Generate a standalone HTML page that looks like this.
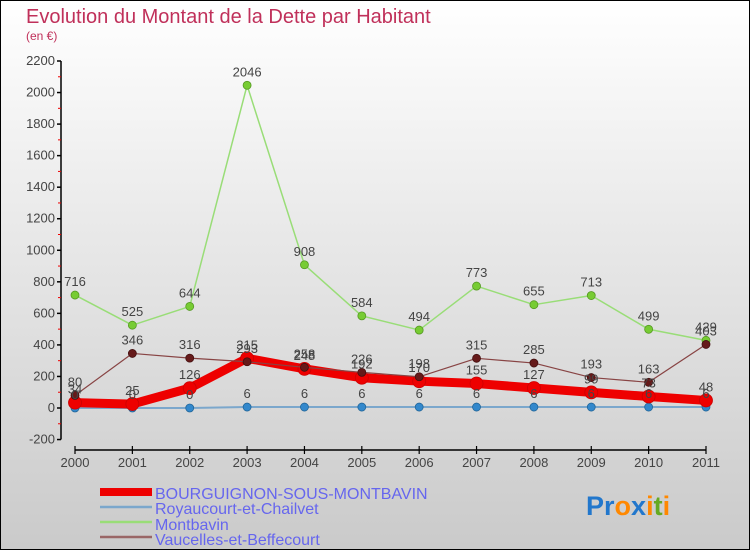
<!DOCTYPE html>
<html><head><meta charset="utf-8"><style>
body{margin:0;width:750px;height:550px;overflow:hidden}
svg{display:block;font-family:"Liberation Sans",sans-serif}
</style></head><body>
<svg id="c" width="750" height="550" viewBox="0 0 750 550">
<defs><linearGradient id="bg" x1="0" y1="0" x2="0" y2="1"><stop offset="0" stop-color="#ffffff"/><stop offset="1" stop-color="#cacaca"/></linearGradient></defs>
<rect x="0.5" y="0.5" width="749" height="549" fill="url(#bg)" stroke="#000"/>
<text x="26" y="23" font-size="20" fill="#c0305a">Evolution du Montant de la Dette par Habitant</text>
<text x="26" y="40" font-size="12" fill="#c0305a">(en €)</text>
<g id="axes"></g><g id="series"></g><g id="labels"></g>
<g>
<rect x="100" y="488" width="52" height="8" fill="#ee0000"/>
<text x="155" y="499" font-size="16" fill="#6666ee">BOURGUIGNON-SOUS-MONTBAVIN</text>
<line x1="100" y1="507" x2="152" y2="507" stroke="#7ba7cc" stroke-width="2.5"/>
<text x="155" y="514" font-size="16" fill="#6666ee">Royaucourt-et-Chailvet</text>
<line x1="100" y1="522" x2="152" y2="522" stroke="#99dd77" stroke-width="2.5"/>
<text x="155" y="530" font-size="16" fill="#6666ee">Montbavin</text>
<line x1="100" y1="537" x2="152" y2="537" stroke="#996666" stroke-width="2.5"/>
<text x="155" y="545" font-size="16" fill="#6666ee">Vaucelles-et-Beffecourt</text>
</g>
<text x="586" y="515" font-size="27" font-weight="bold"><tspan fill="#2277cc">Pr</tspan><tspan fill="#ff8800">o</tspan><tspan fill="#2277cc">x</tspan><tspan fill="#ff8800">i</tspan><tspan fill="#66aa22">t</tspan><tspan fill="#ff8800">i</tspan></text>
</svg>
<script>
const years=[2000,2001,2002,2003,2004,2005,2006,2007,2008,2009,2010,2011];
const bourguignon=[34,25,126,315,248,192,170,155,127,99,73,48];
const royaucourt=[0,0,0,6,6,6,6,6,6,6,6,6];
const montbavin=[716,525,644,2046,908,584,494,773,655,713,499,429];
const vaucelles=[80,346,316,293,258,226,198,315,285,193,163,403];
const yTicks=[-200,0,200,400,600,800,1000,1200,1400,1600,1800,2000,2200];
const NS="http://www.w3.org/2000/svg";
const X=i=>75+i*(706-75)/(years.length-1);
const Y=v=>408-v*(408-61)/2200;
function mk(p,t,a){const e=document.createElementNS(NS,t);for(const k in a)e.setAttribute(k,a[k]);p.appendChild(e);return e;}
const ax=document.getElementById('axes'),sg=document.getElementById('series'),lg=document.getElementById('labels');
const yl=mk(ax,'line',{x1:61,y1:Y(2200),x2:61,y2:Y(-200),stroke:'#000','stroke-width':1.5});


yTicks.forEach((v,i)=>{
 mk(ax,'line',{x1:57,y1:Y(v),x2:61,y2:Y(v),stroke:'#000','stroke-width':1.5});
 if(i<yTicks.length-1)mk(ax,'line',{x1:58,y1:Y(v+100),x2:61,y2:Y(v+100),stroke:'#e00','stroke-width':1});
 const t=mk(ax,'text',{x:55,y:Y(v)+4,'text-anchor':'end','font-size':13,fill:'#444'});t.textContent=v;
 
 
});
const xl=mk(ax,'line',{x1:X(0),y1:450,x2:X(11),y2:450,stroke:'#000','stroke-width':1.5});


years.forEach((y,i)=>{
 mk(ax,'line',{x1:X(i),y1:446,x2:X(i),y2:454,stroke:'#000','stroke-width':1.2});
 const t=mk(ax,'text',{x:X(i),y:467,'text-anchor':'middle','font-size':13,fill:'#444'});t.textContent=y;
 
 
});
function series(name,data,color,w,dot,r,stroke){
 const g=mk(sg,'g',{});
 
 
 mk(g,'polyline',{points:data.map((v,i)=>X(i)+','+Y(v)).join(' '),fill:'none',stroke:color,'stroke-width':w,'stroke-linejoin':'round'});
 data.forEach((v,i)=>{
  const c=mk(g,'circle',{cx:X(i),cy:Y(v),r:r,fill:dot,stroke:stroke,'stroke-width':0.8});
  
  
  const t=mk(lg,'text',{x:X(i),y:Y(v)-9,'text-anchor':'middle','font-size':13,fill:'#444'});t.textContent=v;
  
  
 });
}
series('montbavin',montbavin,'#99dd77',1.5,'#77cc33',4,'#559922');
series('royaucourt',royaucourt,'#7ba7cc',2,'#3388cc',4,'#226699');
series('bourguignon',bourguignon,'#ee0000',9,'#ee0000',6.5,'#cc0000');
series('vaucelles',vaucelles,'#884444',1.2,'#661a1a',4,'#441010');
</script>
</body></html>
